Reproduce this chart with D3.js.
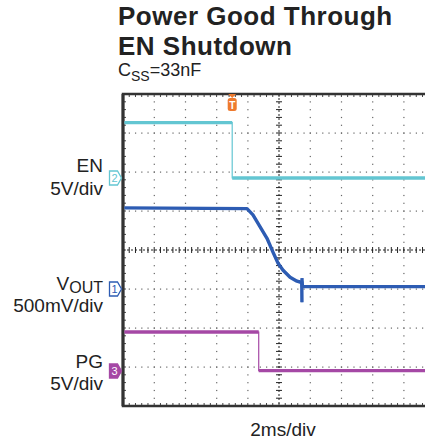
<!DOCTYPE html>
<html>
<head>
<meta charset="utf-8">
<script src="https://cdn.jsdelivr.net/npm/d3@7"></script>
<style>
  body { margin: 0; background: #fff; }
  svg { display: block; font-family: "Liberation Sans", Arial, sans-serif; }
</style>
</head>
<body>
<div id="chart"></div>
<script>
// time axis in ms (2 ms/div, 10 divisions, trigger reference at centre)
const timeDomain = [-10, 10];

// EN channel, 5 V/div
const enTime = [-10, -3.0, -3.0, 10];
const enVolts = [7.1, 7.1, 0.0, 0.0];

// VOUT channel, 500 mV/div
const voutTime = [-10, -2.05, -1.67, -1.22, -0.77, -0.38, -0.06, 0.26, 0.71, 1.15, 1.35, 1.46, 1.47, 1.47, 1.5, 10];
const voutVolts = [1.04, 1.03, 0.95, 0.80, 0.65, 0.47, 0.33, 0.24, 0.15, 0.10, 0.09, 0.09, -0.17, 0.14, 0.03, 0.03];

// PG channel, 5 V/div
const pgTime = [-10, -1.3, -1.3, 10];
const pgVolts = [5.0, 5.0, 0.05, 0.05];

const triggerTime = -3.0;

const W = 425, H = 440;
const pLeft = 123, pTop = 94, divW = 31.2, divH = 39;
const nx = 10, ny = 8;
const pRight = pLeft + nx * divW, pBottom = pTop + ny * divH;

const svg = d3.select("#chart").append("svg")
    .attr("width", W).attr("height", H);

const x = d3.scaleLinear().domain(timeDomain).range([pLeft, pRight]);

// one scale per channel: ground level in pixels and volts per division
function channelScale(ground, vdiv) {
    return d3.scaleLinear().domain([0, vdiv]).range([ground, ground - divH]);
}
const yEn = channelScale(178, 5);
const yVout = channelScale(289, 0.5);
const yPg = channelScale(371, 5);

// title
const title = svg.append("g").attr("fill", "#222")
    .attr("font-size", 26).attr("font-weight", "bold").attr("letter-spacing", 0.5);
title.append("text").attr("x", 118).attr("y", 25).text("Power Good Through");
title.append("text").attr("x", 118).attr("y", 54.5).text("EN Shutdown");
const css = svg.append("text").attr("fill", "#222").attr("x", 118).attr("y", 76).attr("font-size", 18);
css.append("tspan").text("C");
css.append("tspan").attr("font-size", 14).attr("dy", 5).text("SS");
css.append("tspan").attr("dy", -5).text("=33nF");

// graticule
const grid = svg.append("g");
const minorX = d3.range(0, nx * 5 + 1).map(i => pLeft + i * divW / 5);
const minorY = d3.range(0, ny * 5 + 1).map(i => pTop + i * divH / 5);

for (let k = 1; k < ny; k++) {
    if (k === ny / 2) continue;
    const yy = pTop + k * divH;
    grid.append("g").selectAll("rect").data(minorX.slice(1, -1)).join("rect")
        .attr("x", d => d - 0.5).attr("y", yy - 0.5).attr("width", 1.2).attr("height", 1.2)
        .attr("fill", "#666");
}
for (let k = 1; k < nx; k++) {
    if (k === nx / 2) continue;
    const xx = pLeft + k * divW;
    grid.append("g").selectAll("rect").data(minorY.slice(1, -1)).join("rect")
        .attr("x", xx - 0.5).attr("y", d => d - 0.5).attr("width", 1.2).attr("height", 1.2)
        .attr("fill", "#666");
}

// centre axes with cross ticks
const cx = x(0), cy = pTop + (ny / 2) * divH;
grid.append("line").attr("x1", pLeft).attr("x2", pRight).attr("y1", cy).attr("y2", cy)
    .attr("stroke", "#222").attr("stroke-width", 1).attr("stroke-dasharray", "2,2");
grid.append("line").attr("x1", cx).attr("x2", cx).attr("y1", pTop).attr("y2", pBottom)
    .attr("stroke", "#222").attr("stroke-width", 1).attr("stroke-dasharray", "2,2");
grid.append("g").selectAll("line").data(minorX).join("line")
    .attr("x1", d => d).attr("x2", d => d).attr("y1", cy - 3).attr("y2", cy + 3)
    .attr("stroke", "#222").attr("stroke-width", 1);
grid.append("g").selectAll("line").data(minorY).join("line")
    .attr("x1", cx - 3).attr("x2", cx + 3).attr("y1", d => d).attr("y2", d => d)
    .attr("stroke", "#222").attr("stroke-width", 1);

// edge ticks
grid.append("g").selectAll("line").data(minorX).join("line")
    .attr("x1", d => d).attr("x2", d => d).attr("y1", pTop).attr("y2", pTop + 3)
    .attr("stroke", "#444").attr("stroke-width", 1);
grid.append("g").selectAll("line").data(minorX).join("line")
    .attr("x1", d => d).attr("x2", d => d).attr("y1", pBottom).attr("y2", pBottom - 3)
    .attr("stroke", "#444").attr("stroke-width", 1);
grid.append("g").selectAll("line").data(minorY).join("line")
    .attr("x1", pLeft).attr("x2", pLeft + 3).attr("y1", d => d).attr("y2", d => d)
    .attr("stroke", "#444").attr("stroke-width", 1);

// frame
svg.append("rect").attr("x", pLeft).attr("y", pTop)
    .attr("width", pRight - pLeft).attr("height", pBottom - pTop)
    .attr("fill", "none").attr("stroke", "#333").attr("stroke-width", 2.5);
svg.append("line").attr("x1", pLeft).attr("x2", pLeft).attr("y1", pTop).attr("y2", pBottom)
    .attr("stroke", "#333").attr("stroke-width", 3);

// traces
svg.append("clipPath").attr("id", "plot").append("rect")
    .attr("x", pLeft + 1.5).attr("y", pTop + 1).attr("width", pRight - pLeft - 2.5).attr("height", pBottom - pTop - 2);
const traces = svg.append("g").attr("clip-path", "url(#plot)");

function drawTrace(times, volts, y, color) {
    const pts = times.map((t, i) => [t, volts[i]]);
    const line = d3.line().x(d => x(d[0])).y(d => y(d[1]));
    // thin line for the whole trace (fast edges)
    traces.append("path").attr("d", line(pts))
        .attr("fill", "none").attr("stroke", color).attr("stroke-width", 1.2);
    // thick band where the signal is sampled over time
    let run = [pts[0]];
    const runs = [];
    for (let i = 1; i < pts.length; i++) {
        if (pts[i][0] === pts[i - 1][0]) { runs.push(run); run = [pts[i]]; }
        else run.push(pts[i]);
    }
    runs.push(run);
    runs.filter(r => r.length > 1).forEach(r => {
        traces.append("path").attr("d", line(r))
            .attr("fill", "none").attr("stroke", color).attr("stroke-width", 3.4)
            .attr("stroke-linejoin", "round");
    });
}

const cEn = "#63c6d2", cVout = "#2d5cb3", cPg = "#a548a5";
drawTrace(enTime, enVolts, yEn, cEn);
drawTrace(pgTime, pgVolts, yPg, cPg);
drawTrace(voutTime, voutVolts, yVout, cVout);

// trigger marker
const tx = x(triggerTime);
const trig = svg.append("g").attr("fill", "#ee7a2e");
trig.append("path").attr("d", `M${tx - 4},${pTop} L${tx + 4},${pTop} L${tx},${pTop + 4} Z`);
trig.append("rect").attr("x", tx - 4.5).attr("y", pTop + 4).attr("width", 9).attr("height", 13).attr("rx", 2.5);
trig.append("text").attr("x", tx).attr("y", pTop + 14.5).attr("text-anchor", "middle")
    .attr("font-size", 10).attr("font-weight", "bold").attr("fill", "#fff").text("T");

// channel ground markers
function marker(yy, label, color, filled) {
    const g = svg.append("g");
    g.append("path")
        .attr("d", `M109.5,${yy - 7} L117.5,${yy - 7} L121.5,${yy} L117.5,${yy + 7} L109.5,${yy + 7} Z`)
        .attr("fill", filled ? color : "#fff").attr("stroke", color).attr("stroke-width", 1.3);
    g.append("text").attr("x", 114.5).attr("y", yy + 4).attr("text-anchor", "middle")
        .attr("font-size", 11).attr("fill", filled ? "#fff" : color).text(label);
}
marker(yEn(0), "2", cEn, false);
marker(yVout(0), "1", cVout, false);
marker(yPg(0), "3", cPg, true);

// channel labels
const lab = svg.append("g").attr("fill", "#222").attr("font-size", 19).attr("text-anchor", "end");
lab.append("text").attr("x", 103).attr("y", 172).text("EN");
lab.append("text").attr("x", 103).attr("y", 195).text("5V/div");
const vo = lab.append("text").attr("x", 103).attr("y", 290);
vo.append("tspan").text("V");
vo.append("tspan").attr("font-size", 16).attr("dy", 3).text("OUT");
lab.append("text").attr("x", 103).attr("y", 312).text("500mV/div");
lab.append("text").attr("x", 103).attr("y", 368).text("PG");
lab.append("text").attr("x", 103).attr("y", 390).text("5V/div");

svg.append("text").attr("x", 283).attr("y", 436).attr("text-anchor", "middle")
    .attr("font-size", 19).attr("fill", "#222").text("2ms/div");
</script>
</body>
</html>
